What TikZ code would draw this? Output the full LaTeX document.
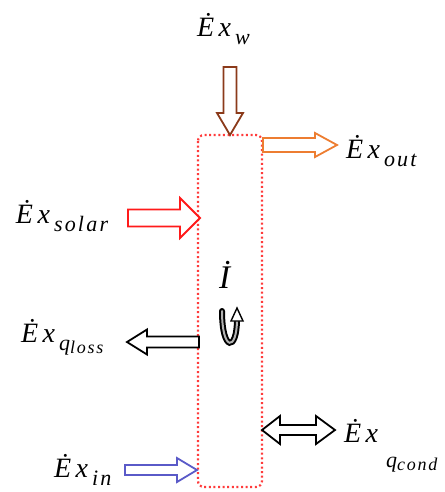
\documentclass[tikz,border=0pt]{standalone}
\usepackage{fontspec}
\setmainfont{Liberation Serif}
\newfontfamily\lblfont[LetterSpace=10]{Liberation Serif}
\definecolor{cbrown}{HTML}{8B3A1A}
\definecolor{corange}{HTML}{ED7D31}
\definecolor{cred}{HTML}{FF1A1A}
\definecolor{cblue}{HTML}{5A5AC8}
\definecolor{cbox}{HTML}{FF3B3B}
\newcommand\harrow[7]{% color, x-start, x-tip, y, shaft half, head half, head length (signed)
  \draw[#1, blockarrow] ({#2},{#4-#5}) -- ({#3-(#7)},{#4-#5}) -- ({#3-(#7)},{#4-#6}) -- ({#3},{#4})
    -- ({#3-(#7)},{#4+#6}) -- ({#3-(#7)},{#4+#5}) -- ({#2},{#4+#5}) -- cycle;}
\newcommand\mainEx{\fontsize{28}{28}\selectfont Ė\kern4.5pt x}
\newcommand\lbl[1]{{\lblfont\itshape\mainEx\kern4pt\raisebox{-8pt}{\fontsize{22}{22}\selectfont #1}}}
\begin{document}
\begin{tikzpicture}[x=1pt,y=-1pt,
  blockarrow/.style={line width=1.8pt, line join=miter, fill=white},
  lab/.style={anchor=base west, inner sep=0pt, outer sep=0pt}]
\useasboundingbox (0,0) rectangle (444,492);
% control volume
\draw[cbox, line width=2.2pt, dash pattern=on 2pt off 2.6pt, rounded corners=6pt] (198,135) rectangle (262,487);
% arrows
\draw[cbrown, blockarrow] (223.5,67) -- (236.5,67) -- (236.5,113) -- (243,113) -- (230,135) -- (217,113) -- (223.5,113) -- cycle;
\harrow{corange}{263}{337}{145}{7}{12}{22}
\harrow{cred}{128}{200}{218}{8.5}{20}{20}
\harrow{black}{199}{127}{342}{5.5}{12.5}{-20}
\harrow{cblue}{125}{197}{470}{5}{12}{20}
\draw[black, blockarrow] (262,430) -- (280,416) -- (280,425) -- (316,425) -- (316,416) -- (335,430)
  -- (316,444) -- (316,435) -- (280,435) -- (280,444) -- cycle;
% labels
\node[lab] (w) at (197,37) {\lbl{w}};
\node[lab] (out) at (346,158) {\lbl{out}};
\node[lab] (solar) at (16,223) {\lbl{solar}};
\node[lab] (loss) at (21,342) {\lbl{q\raisebox{-3pt}{\fontsize{18}{18}\selectfont loss}}};
\node[lab] (cond) at (344,442) {{\lblfont\itshape\mainEx}};
\node[lab] (condsub) at (386,467) {{\lblfont\itshape\fontsize{22}{22}\selectfont q\raisebox{-3pt}{\fontsize{18}{18}\selectfont cond}}};
\node[lab] (in) at (54,477) {\lbl{in}};
\node[lab] (I) at (219,288) {{\itshape\fontsize{33}{33}\selectfont İ}};
% rotation symbol
\draw[black, line width=6pt, line cap=round] (222,311) .. controls (222,352) and (237,352) .. (237,319);
\draw[gray!60, line width=2pt, line cap=round] (222,311) .. controls (222,352) and (237,352) .. (237,319);
\draw[black, line width=1.4pt, fill=white, line join=miter] (231,321) -- (237,308) -- (243,321) -- cycle;
\end{tikzpicture}
\end{document}
